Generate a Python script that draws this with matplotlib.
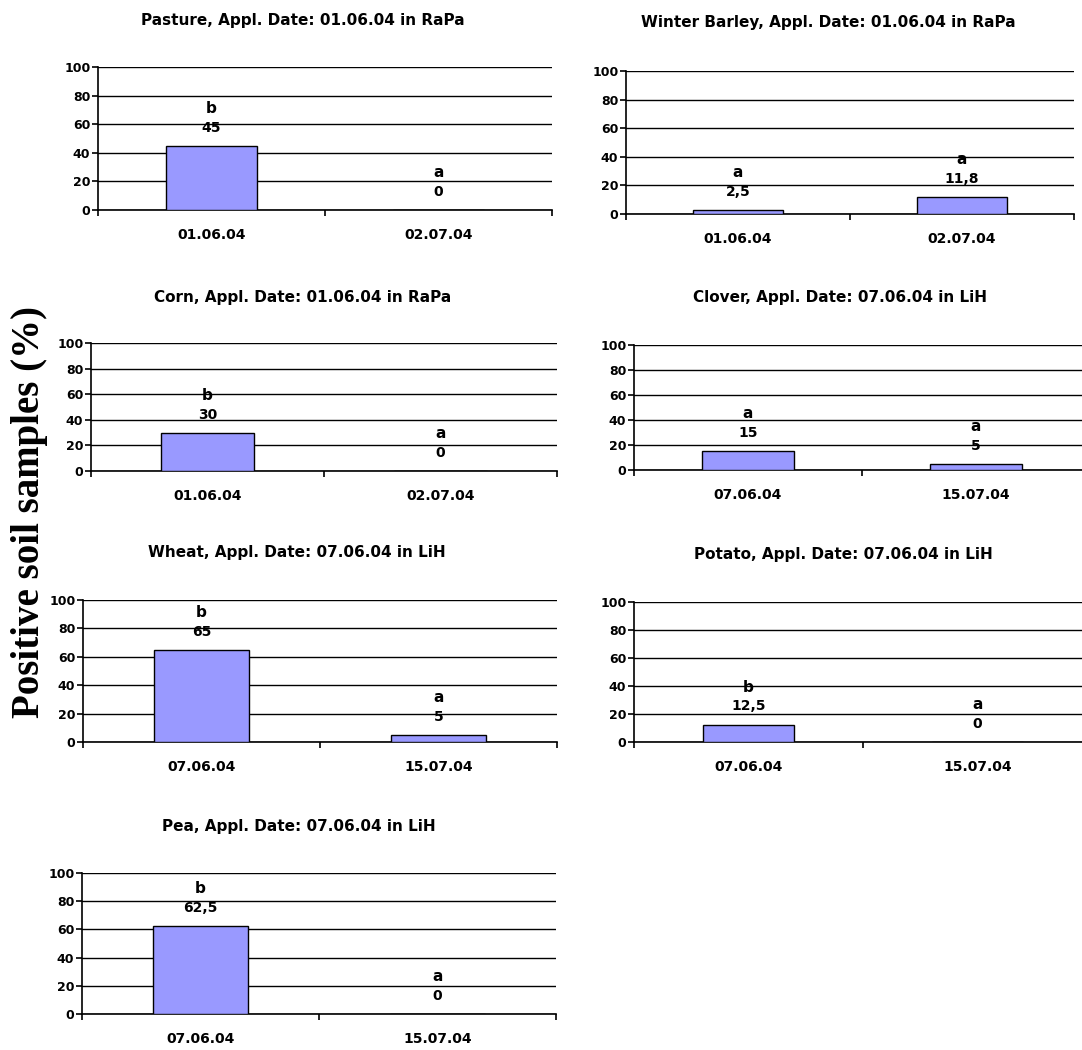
import matplotlib

matplotlib.use("Agg")

import matplotlib.pyplot as plt
import numpy as np

# --- data ------------------------------------------------------------------
titles = [
    "Pasture, Appl. Date: 01.06.04 in RaPa",
    "Winter Barley, Appl. Date: 01.06.04 in RaPa",
    "Corn, Appl. Date: 01.06.04 in RaPa",
    "Clover, Appl. Date: 07.06.04 in LiH",
    "Wheat, Appl. Date: 07.06.04 in LiH",
    "Potato, Appl. Date: 07.06.04 in LiH",
    "Pea, Appl. Date: 07.06.04 in LiH",
]
dates_rapa = ["01.06.04", "02.07.04"]
dates_lih = ["07.06.04", "15.07.04"]
dates = [dates_rapa, dates_rapa, dates_rapa, dates_lih, dates_lih, dates_lih, dates_lih]
values = [
    [45, 0],
    [2.5, 11.8],
    [30, 0],
    [15, 5],
    [65, 5],
    [12.5, 0],
    [62.5, 0],
]
letters = [
    ["b", "a"],
    ["a", "a"],
    ["b", "a"],
    ["a", "a"],
    ["b", "a"],
    ["b", "a"],
    ["b", "a"],
]
yticks = [0, 20, 40, 60, 80, 100]
ylabel = "Positive soil samples (%)"

# --- layout (pixels: left, right, top, bottom of plot area; title centre) ---
W, H = 1082, 1050
panels = [
    (98, 552, 67, 210, 303, 21),
    (626, 1074, 71, 214, 828, 23),
    (91, 557, 343, 471, 303, 297),
    (634, 1090, 345, 470, 840, 298),
    (83, 557, 600, 742, 297, 553),
    (634, 1092, 602, 742, 843, 555),
    (82, 556, 873, 1014, 299, 827),
]

BAR = "#9999ff"
SANS = "DejaVu Sans"

fig = plt.figure(figsize=(W / 100, H / 100), dpi=100)


def fmt(v):
    # decimal comma, as in the original
    return f"{v:g}".replace(".", ",")


for i, (l, r, t, b, tx, ty) in enumerate(panels):
    ax = fig.add_axes([l / W, 1 - b / H, (r - l) / W, (b - t) / H])
    x = np.arange(len(values[i])) + 0.5
    ax.bar(x, values[i], width=0.4, color=BAR, edgecolor="black", linewidth=1.0, zorder=3)

    for xi, v, let in zip(x, values[i], letters[i]):
        ax.annotate(fmt(v), (xi, v), xytext=(0, 13), textcoords="offset points",
                    ha="center", va="center", fontsize=10, fontweight="bold",
                    family=SANS, zorder=4)
        ax.annotate(let, (xi, v), xytext=(0, 27), textcoords="offset points",
                    ha="center", va="center", fontsize=11, fontweight="bold",
                    family=SANS, zorder=4)

    ax.set_xlim(0, len(values[i]))
    ax.set_ylim(0, 100)
    ax.set_yticks(yticks)
    ax.set_yticklabels([str(v) for v in yticks], fontsize=9, fontweight="bold", family=SANS)
    ax.yaxis.grid(True, color="black", linewidth=1.0, zorder=0)
    ax.set_axisbelow(True)

    # category boundaries carry the tick marks, labels sit between them
    ax.set_xticks(np.arange(len(values[i]) + 1))
    ax.set_xticklabels([])
    ax.set_xticks(x, minor=True)
    ax.set_xticklabels(dates[i], minor=True, fontsize=10, fontweight="bold", family=SANS)
    ax.tick_params(axis="x", which="major", direction="out", length=4, width=1.2)
    ax.tick_params(axis="x", which="minor", length=0, pad=13)
    ax.tick_params(axis="y", direction="out", length=4, width=1.2, pad=1.5)

    for side in ("top", "right"):
        ax.spines[side].set_visible(False)
    for side in ("left", "bottom"):
        ax.spines[side].set_linewidth(1.2)

    fig.text(tx / W, 1 - ty / H, titles[i], ha="center", va="center",
             fontsize=11, fontweight="bold", family=SANS)

fig.text(30 / W, 1 - 512 / H, ylabel, rotation=90, ha="center", va="center",
         fontsize=28, fontweight="bold", family="Liberation Serif")

fig.savefig("out.png", dpi=100, facecolor="white")
plt.close(fig)
